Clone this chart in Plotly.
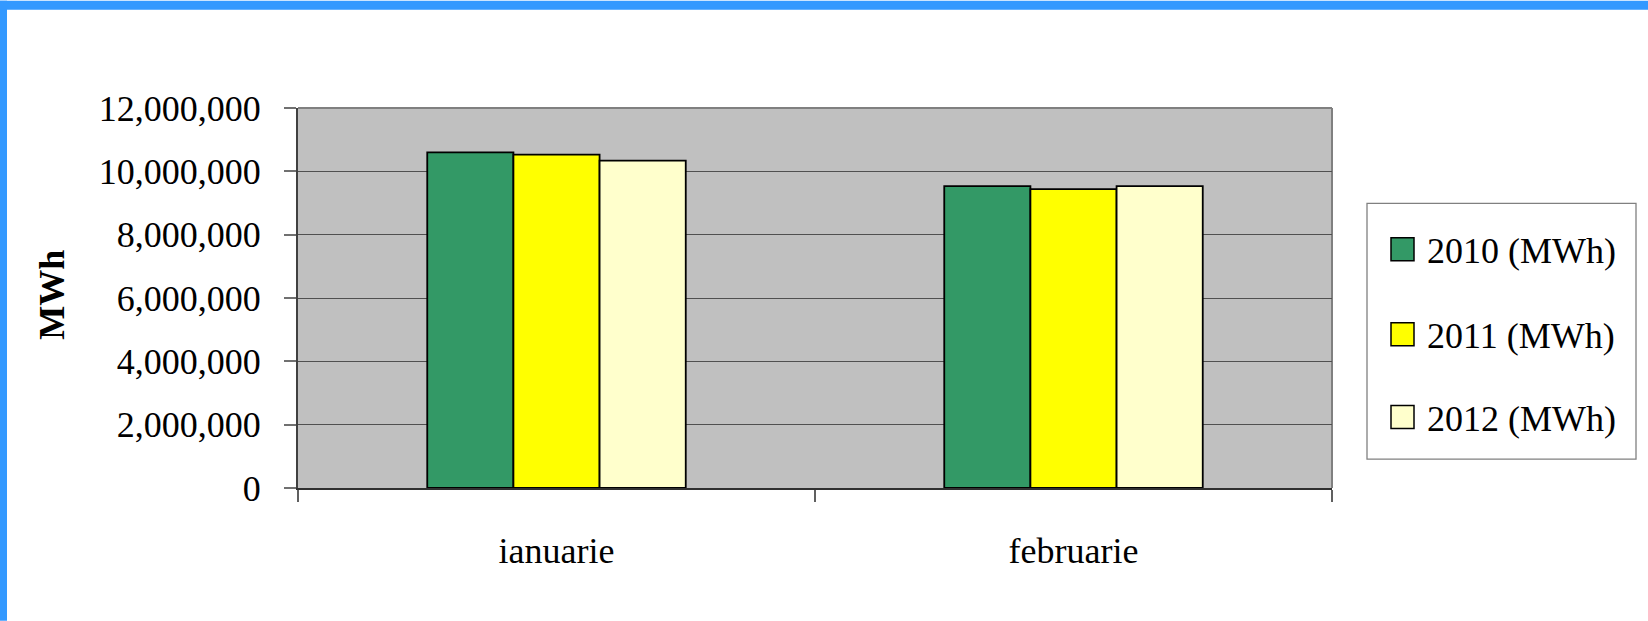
import plotly.graph_objects as go

# ---- data ----
categories = ["ianuarie", "februarie"]
series_names = ["2010 (MWh)", "2011 (MWh)", "2012 (MWh)"]
values_2010 = [10600000, 9530000]
values_2011 = [10530000, 9440000]
values_2012 = [10340000, 9530000]
series_values = [values_2010, values_2011, values_2012]
series_colors = ["#339966", "#FFFF00", "#FFFFCC"]
y_ticks = [0, 2000000, 4000000, 6000000, 8000000, 10000000, 12000000]
y_ticktext = ["0", "2,000,000", "4,000,000", "6,000,000", "8,000,000", "10,000,000", "12,000,000"]

W, H = 1648, 621
L, R, T, B = 298, 1332, 107.5, 488  # plot area in pixels
FONT = "Liberation Serif, Times New Roman, serif"


def px(x):
    return (x - L) / (R - L)


def py(y):
    return (B - y) / (B - T)


fig = go.Figure()
for name, vals, col in zip(series_names, series_values, series_colors):
    fig.add_trace(go.Bar(
        x=categories, y=vals, name=name,
        marker=dict(color=col, line=dict(color="black", width=1.8)),
        showlegend=False,
    ))

shapes = []
# blue frame (top and left)
shapes.append(dict(type="rect", xref="paper", yref="paper",
                   x0=px(0), x1=px(W), y0=py(0), y1=py(9),
                   fillcolor="#3399FF", line=dict(width=0), layer="above"))
shapes.append(dict(type="rect", xref="paper", yref="paper",
                   x0=px(0), x1=px(7), y0=py(0), y1=py(H),
                   fillcolor="#3399FF", line=dict(width=0), layer="above"))
# plot border (top, right) gray
shapes.append(dict(type="line", xref="paper", yref="paper", x0=0, x1=1, y0=1, y1=1,
                   line=dict(color="#808080", width=2), layer="below"))
shapes.append(dict(type="line", xref="paper", yref="paper", x0=1, x1=1, y0=0, y1=1,
                   line=dict(color="#808080", width=2), layer="below"))

annotations = []
# legend box
lx0, lx1, ly0, ly1 = 1367, 1636, 203, 459
shapes.append(dict(type="rect", xref="paper", yref="paper",
                   x0=px(lx0), x1=px(lx1), y0=py(ly1), y1=py(ly0),
                   fillcolor="white", line=dict(color="#808080", width=1.3)))
item_y = [249, 334, 417]
for name, col, yc in zip(series_names, series_colors, item_y):
    shapes.append(dict(type="rect", xref="paper", yref="paper",
                       x0=px(1391), x1=px(1414), y0=py(yc + 11.5), y1=py(yc - 11.5),
                       fillcolor=col, line=dict(color="black", width=1.5)))
    annotations.append(dict(xref="paper", yref="paper", x=px(1425), y=py(yc + 2),
                            xanchor="left", yanchor="middle", showarrow=False,
                            text=name, font=dict(family=FONT, size=36, color="black")))

# y-axis title
annotations.append(dict(xref="paper", yref="paper", x=px(52.5), y=py(295),
                        xanchor="center", yanchor="middle", showarrow=False,
                        text="<b>MWh</b>", textangle=-90,
                        font=dict(family=FONT, size=36, color="black")))

fig.update_layout(
    width=W, height=H,
    margin=dict(l=L, r=W - R, t=T, b=H - B, pad=0),
    paper_bgcolor="white", plot_bgcolor="#C0C0C0",
    barmode="group", bargap=0.5, bargroupgap=0,
    font=dict(family=FONT, size=36, color="black"),
    shapes=shapes, annotations=annotations,
    showlegend=False,
    xaxis=dict(
        type="category", showgrid=False, zeroline=False,
        showline=True, linecolor="#303030", linewidth=2,
        ticks="outside", ticklen=12, tickwidth=2, tickcolor="#606060",
        tickson="boundaries", ticklabelstandoff=30,
        tickfont=dict(family=FONT, size=36, color="black"),
    ),
    yaxis=dict(
        range=[0, 12000000], tickvals=y_ticks, ticktext=y_ticktext,
        showgrid=True, gridcolor="#505050", gridwidth=1.2, zeroline=False,
        showline=True, linecolor="#404040", linewidth=2,
        ticks="outside", ticklen=12, tickwidth=2, tickcolor="#707070",
        ticklabelstandoff=16,
        tickfont=dict(family=FONT, size=36, color="black"),
    ),
)

fig.write_html(
    "out.html",
    config={"displayModeBar": False},
    post_script="document.body.style.margin='0px';document.body.style.overflow='hidden';",
)
